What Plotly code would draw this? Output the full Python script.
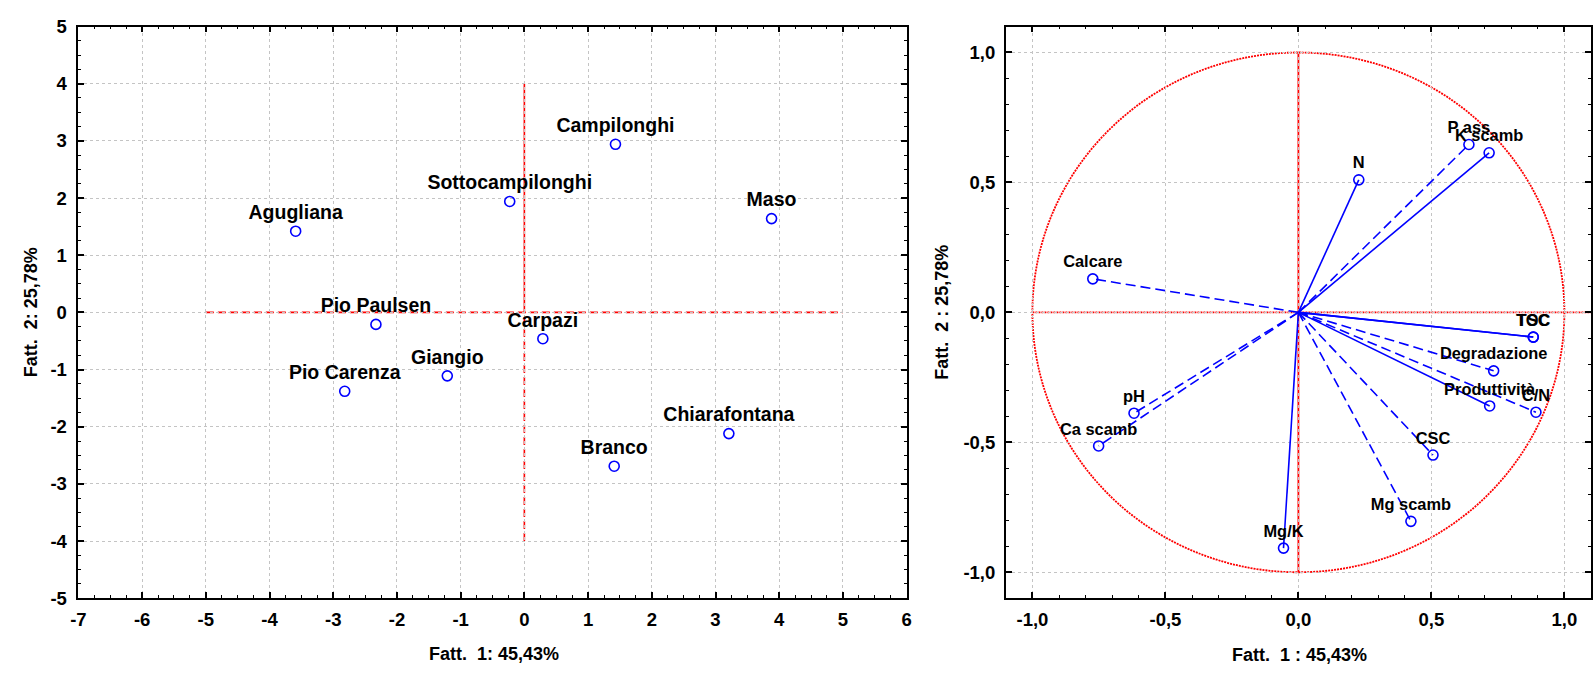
import plotly.graph_objects as go

# ---------------- data ----------------
# Left: observations (factor scores)
obs_names = ["Agugliana", "Pio Paulsen", "Campilonghi", "Sottocampilonghi", "Maso",
             "Carpazi", "Giangio", "Chiarafontana", "Branco", "Pio Carenza"]
obs_f1 = [-3.59, -2.33, 1.43, -0.23, 3.88, 0.29, -1.21, 3.21, 1.41, -2.82]
obs_f2 = [1.42, -0.21, 2.94, 1.94, 1.64, -0.46, -1.11, -2.12, -2.69, -1.38]

# Right: variables (factor loadings)
var_names = ["N", "P ass", "K scamb", "Calcare", "TSC", "TOC", "Degradazione",
             "Produttività", "C/N", "CSC", "Mg scamb", "pH", "Ca scamb", "Mg/K"]
var_f1 = [0.227, 0.641, 0.717, -0.773, 0.883, 0.883, 0.734, 0.719, 0.893, 0.506, 0.423,
          -0.618, -0.751, -0.056]
var_f2 = [0.510, 0.646, 0.614, 0.129, -0.095, -0.095, -0.225, -0.360, -0.384, -0.549,
          -0.804, -0.388, -0.514, -0.907]
dashed_vars = {"P ass", "Calcare", "Degradazione", "C/N", "CSC", "Mg scamb", "pH", "Ca scamb"}

# tick labels
left_xticks = [-7, -6, -5, -4, -3, -2, -1, 0, 1, 2, 3, 4, 5, 6]
left_yticks = [-5, -4, -3, -2, -1, 0, 1, 2, 3, 4, 5]
right_ticks = [-1.0, -0.5, 0.0, 0.5, 1.0]
right_ticktext = ["-1,0", "-0,5", "0,0", "0,5", "1,0"]

title_left_x = "Fatt.\u00a0\u00a01: 45,43%"
title_left_y = "Fatt.\u00a0\u00a02: 25,78%"
title_right_x = "Fatt.\u00a0\u00a01 : 45,43%"
title_right_y = "Fatt.\u00a0\u00a02 : 25,78%"

# ---------------- figure ----------------
W, H = 1596, 679
FONT = "Liberation Sans, Arial, sans-serif"
BLUE = "#0000ff"
RED = "#ff0000"

fig = go.Figure()

# left observations
fig.add_trace(go.Scatter(
    x=obs_f1, y=obs_f2, text=obs_names, mode="markers+text",
    textposition="top center",
    textfont=dict(family=FONT, size=19.5, color="black", weight="bold"),
    marker=dict(symbol="circle-open", size=10, color=BLUE, line=dict(width=1.6, color=BLUE)),
    xaxis="x", yaxis="y", showlegend=False, cliponaxis=False))

# right: lines from origin
for dashed in (False, True):
    lx, ly = [], []
    for n, a, b in zip(var_names, var_f1, var_f2):
        if (n in dashed_vars) == dashed:
            lx += [0, a, None]
            ly += [0, b, None]
    fig.add_trace(go.Scatter(
        x=lx, y=ly, mode="lines",
        line=dict(color=BLUE, width=1.6, dash="10px,5px" if dashed else "solid"),
        xaxis="x2", yaxis="y2", showlegend=False, hoverinfo="skip"))

fig.add_trace(go.Scatter(
    x=var_f1, y=var_f2, text=var_names, mode="markers+text",
    textposition="top center",
    textfont=dict(family=FONT, size=16.4, color="black", weight="bold"),
    marker=dict(symbol="circle-open", size=10, color=BLUE, line=dict(width=1.6, color=BLUE)),
    xaxis="x2", yaxis="y2", showlegend=False, cliponaxis=False))

# reference lines
shapes = [
    dict(type="line", xref="x", yref="y", x0=-5, x1=5, y0=0, y1=0,
         line=dict(color=RED, width=1.6, dash="8px,4px"), layer="below"),
    dict(type="line", xref="x", yref="y", x0=0, x1=0, y0=0, y1=4,
         line=dict(color=RED, width=1.6), layer="below"),
    dict(type="line", xref="x", yref="y", x0=0, x1=0, y0=-4, y1=0,
         line=dict(color=RED, width=1.6, dash="8px,4px"), layer="below"),
    dict(type="circle", xref="x2", yref="y2", x0=-1, x1=1, y0=-1, y1=1,
         line=dict(color=RED, width=1.8, dash="2px,1px"), layer="below"),
    dict(type="line", xref="x2", yref="y2", x0=-1, x1=1.1, y0=0, y1=0,
         line=dict(color=RED, width=1.8, dash="2px,1px"), layer="below"),
    dict(type="line", xref="x2", yref="y2", x0=0, x1=0, y0=-1, y1=1,
         line=dict(color=RED, width=1.8), layer="below"),
]

tickfont = dict(family=FONT, size=18.5, color="black", weight="bold")


def axis(domain, rng, tickvals, ticktext, minor_dtick, anchor, standoff):
    return dict(
        domain=domain, range=rng, anchor=anchor, autorange=False,
        tickmode="array", tickvals=tickvals, ticktext=ticktext,
        ticks="inside", ticklen=6, tickwidth=1.5, tickcolor="black",
        showline=True, linecolor="black", linewidth=1.6, mirror="allticks",
        showgrid=True, gridcolor="#c4c4c4", gridwidth=1, griddash="dot",
        zeroline=False, tickfont=tickfont, ticklabelstandoff=standoff,
        ticklabeloverflow="allow",
        minor=dict(dtick=minor_dtick, tick0=0, ticks="inside", ticklen=3,
                   tickwidth=1.2, tickcolor="black", showgrid=False),
    )


xd1 = [71 / W, 906 / W]
xd2 = [1006 / W, 1.0]
yd = [1 - 606 / H, 1 - 16 / H]

fig.update_layout(
    width=W, height=H, autosize=False,
    margin=dict(l=0, r=0, t=0, b=0),
    paper_bgcolor="white", plot_bgcolor="white",
    font=dict(family=FONT, color="black"),
    xaxis=axis(xd1, [-7, 6], left_xticks, [str(v) for v in left_xticks], 0.25, "y", 4),
    yaxis=axis(yd, [-5, 5], left_yticks, [str(v) for v in left_yticks], 0.25, "x", 6),
    xaxis2=axis(xd2, [-1.1, 1.1], right_ticks, right_ticktext, 0.1, "y2", 4),
    yaxis2=axis(yd, [-1.1, 1.1], right_ticks, right_ticktext, 0.1, "x2", 5),
    shapes=shapes,
    annotations=[
        dict(text=title_left_x, x=490 / W, y=1 - 664 / H, xref="paper", yref="paper",
             showarrow=False, xanchor="center", yanchor="middle",
             font=dict(family=FONT, size=18, color="black", weight="bold")),
        dict(text=title_left_y, x=24 / W, y=1 - 311 / H, xref="paper", yref="paper",
             showarrow=False, xanchor="center", yanchor="middle", textangle=-90,
             font=dict(family=FONT, size=18, color="black", weight="bold")),
        dict(text=title_right_x, x=1302 / W, y=1 - 665 / H, xref="paper", yref="paper",
             showarrow=False, xanchor="center", yanchor="middle",
             font=dict(family=FONT, size=18, color="black", weight="bold")),
        dict(text=title_right_y, x=942 / W, y=1 - 311 / H, xref="paper", yref="paper",
             showarrow=False, xanchor="center", yanchor="middle", textangle=-90,
             font=dict(family=FONT, size=18, color="black", weight="bold")),
    ],
)

fig.write_html("out.html")
